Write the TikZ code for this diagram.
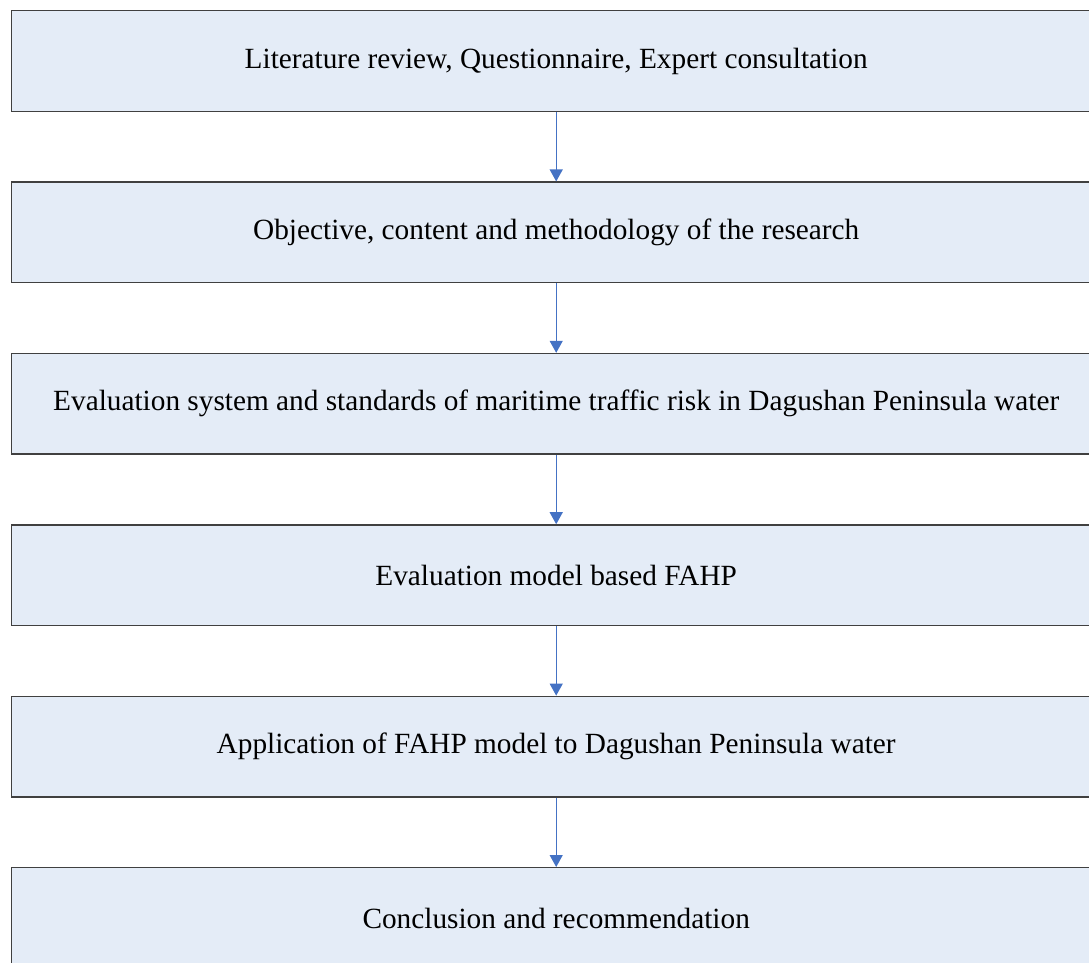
\documentclass[tikz,border=0pt]{standalone}
\usepackage{fontspec}
\setmainfont{Liberation Serif}
\usetikzlibrary{arrows.meta, positioning}
\definecolor{stagefill}{HTML}{E4ECF7}
\definecolor{flowblue}{HTML}{4472C4}

\begin{document}
\begin{tikzpicture}[
    x=1pt, y=1pt,
    stage/.style={rectangle, draw=black!75, line width=1.4pt, fill=stagefill,
                  minimum width=1089pt, minimum height=100.6pt, inner sep=0pt,
                  font=\fontsize{29.3}{34}\selectfont},
    arrow/.style={-{Triangle[length=12pt, width=13pt]}, line width=1.2pt, flowblue},
    node distance=69.4pt
  ]
    \useasboundingbox (0,0) rectangle (1089,-963);
    \clip (0,0) rectangle (1089,-963);

    % Stages
    \node[stage, anchor=north west] (s1) at (11,-10) {Literature review, Questionnaire, Expert consultation};
    \node[stage, below=of s1] (s2) {Objective, content and methodology of the research};
    \node[stage, below=of s2] (s3) {Evaluation system and standards of maritime traffic risk in Dagushan Peninsula water};
    \node[stage, below=of s3] (s4) {Evaluation model based FAHP};
    \node[stage, below=of s4] (s5) {Application of FAHP model to Dagushan Peninsula water};
    \node[stage, below=of s5] (s6) {Conclusion and recommendation};

    % Arrows
    \draw[arrow] (s1) -- (s2);
    \draw[arrow] (s2) -- (s3);
    \draw[arrow] (s3) -- (s4);
    \draw[arrow] (s4) -- (s5);
    \draw[arrow] (s5) -- (s6);
\end{tikzpicture}
\end{document}
